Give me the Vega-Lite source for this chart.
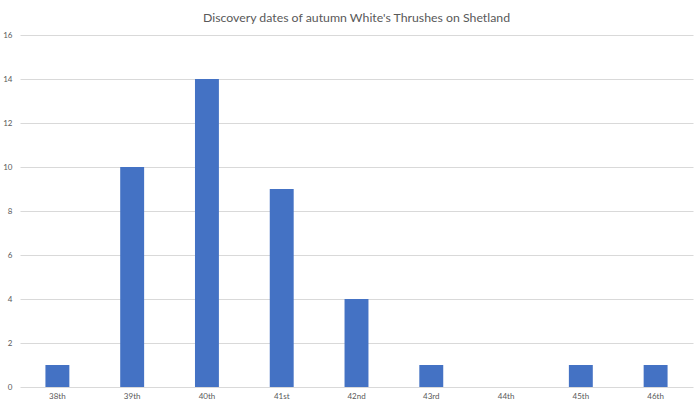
{
  "$schema": "https://vega.github.io/schema/vega-lite/v6.json",
  "autosize": "none",
  "width": 673,
  "height": 352,
  "padding": {"left": 20, "top": 35, "right": 7, "bottom": 19},
  "background": "white",
  "title": {
    "text": "Discovery dates of autumn White's Thrushes on Shetland",
    "font": "Lato",
    "fontSize": 12.3,
    "fontWeight": "normal",
    "color": "#595959",
    "anchor": "middle",
    "offset": 7
  },
  "data": {
    "values": [
      {"week": "38th", "count": 1},
      {"week": "39th", "count": 10},
      {"week": "40th", "count": 14},
      {"week": "41st", "count": 9},
      {"week": "42nd", "count": 4},
      {"week": "43rd", "count": 1},
      {"week": "44th", "count": 0},
      {"week": "45th", "count": 1},
      {"week": "46th", "count": 1}
    ]
  },
  "mark": {"type": "bar", "color": "#4472C4"},
  "encoding": {
    "x": {
      "field": "week",
      "type": "nominal",
      "sort": null,
      "scale": {"paddingInner": 0.68, "paddingOuter": 0.34},
      "axis": {
        "title": null,
        "labelAngle": 0,
        "ticks": false,
        "domain": false,
        "labelFont": "Lato",
        "labelFontSize": 8,
        "labelColor": "#595959",
        "labelPadding": 5
      }
    },
    "y": {
      "field": "count",
      "type": "quantitative",
      "scale": {"domain": [0, 16]},
      "axis": {
        "title": null,
        "values": [0, 2, 4, 6, 8, 10, 12, 14, 16],
        "ticks": false,
        "domain": false,
        "gridColor": "#d9d9d9",
        "labelFont": "Lato",
        "labelFontSize": 8,
        "labelColor": "#595959",
        "labelPadding": 8
      }
    }
  },
  "config": {"view": {"stroke": null}}
}
